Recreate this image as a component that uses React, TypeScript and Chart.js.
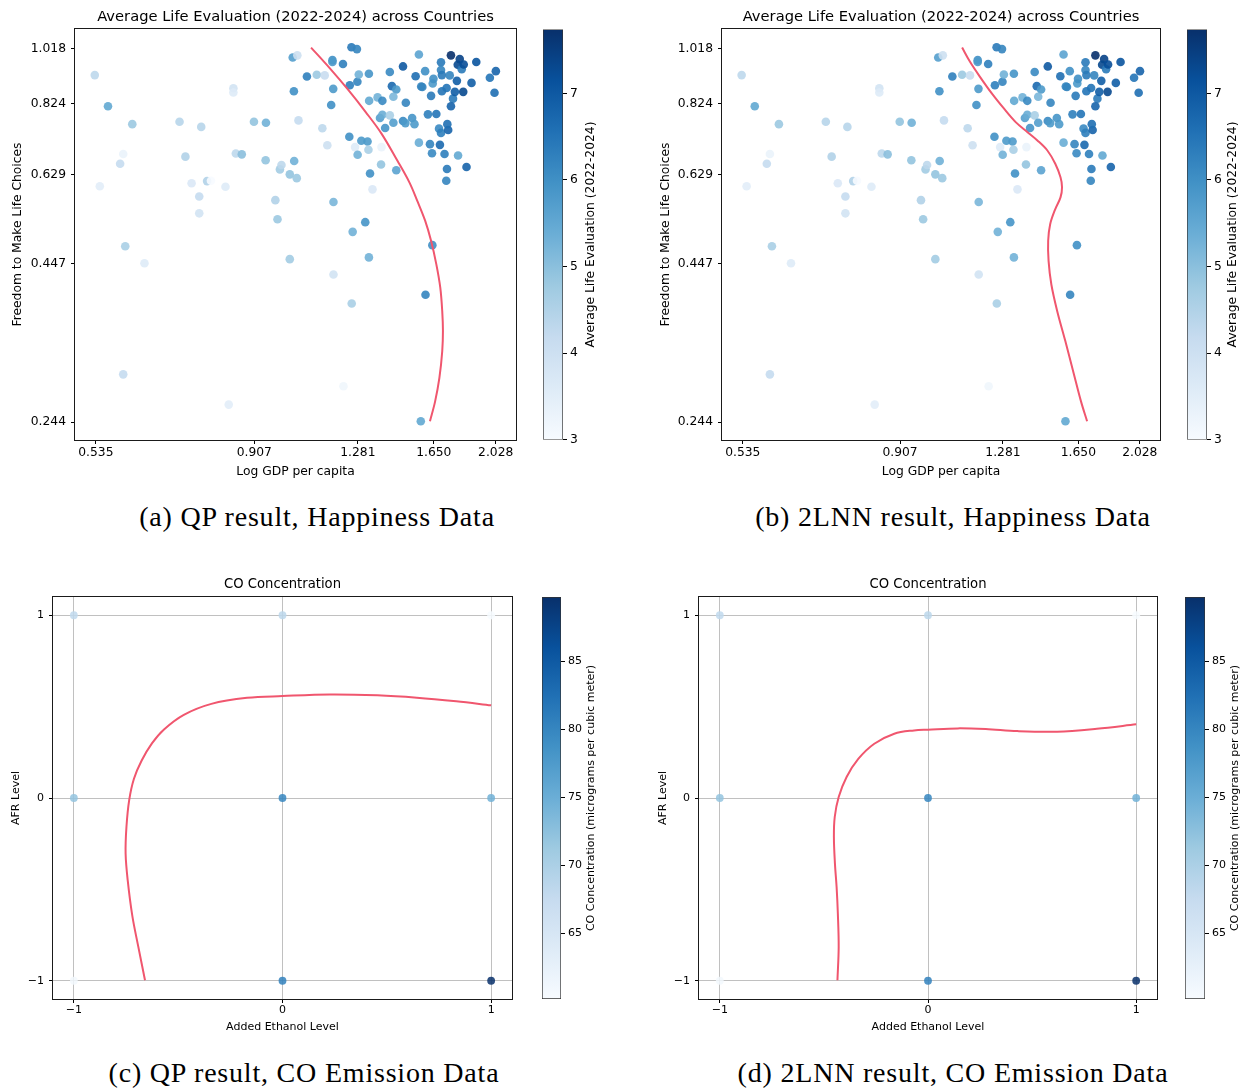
import React, { useEffect, useRef } from 'react';
import { Chart, registerables } from 'chart.js';

Chart.register(...registerables);

const FONT = "'DejaVu Sans', sans-serif";
const RED = '#f0566e';

// ---------------- Happiness data (shared by panels a and b) ----------------
const gdpPerCapita = [
  0.533, 0.557, 0.604, 0.542, 0.580, 0.586, 0.590, 0.629, 0.586, 0.707,
  0.760, 0.721, 0.736, 0.755, 0.755, 0.775, 0.785, 0.824, 0.846, 0.846,
  0.853, 0.870, 0.906, 0.943, 0.833, 0.942, 0.973, 0.980, 0.988, 0.993,
  1.021, 1.036, 1.045, 1.021, 1.031, 1.047, 1.035, 1.051, 1.081, 1.117,
  1.147, 1.138, 1.157, 1.177, 1.177, 1.219, 1.180, 1.172, 1.181, 1.181,
  1.221, 1.245, 1.247, 1.254, 1.277, 1.279, 1.285, 1.329, 1.269, 1.280,
  1.296, 1.323, 1.327, 1.259, 1.313, 1.329, 1.255, 1.334, 1.345, 1.384,
  1.386, 1.330, 1.368, 1.390, 1.379, 1.390, 1.403, 1.425, 1.435, 1.456,
  1.442, 1.425, 1.442, 1.456, 1.489, 1.503, 1.489, 1.501, 1.535, 1.547,
  1.553, 1.570, 1.582, 1.603, 1.588, 1.570, 1.635, 1.618, 1.664, 1.644,
  1.648, 1.629, 1.640, 1.684, 1.679, 1.690, 1.690, 1.690, 1.695, 1.695,
  1.722, 1.731, 1.726, 1.710, 1.724, 1.720, 1.747, 1.740, 1.759, 1.747,
  1.770, 1.782, 1.799, 1.787, 1.811, 1.823, 1.820, 1.789, 1.840, 1.871,
  1.901, 1.989, 2.029, 2.020, 1.642, 1.605, 1.580,
];
const freedomChoices = [
  0.919, 0.816, 0.762, 0.601, 0.655, 0.680, 0.478, 0.448, 0.293, 0.769,
  0.754, 0.673, 0.608, 0.578, 0.542, 0.613, 0.614, 0.600, 0.874, 0.860,
  0.681, 0.679, 0.769, 0.766, 0.261, 0.664, 0.570, 0.530, 0.641, 0.652,
  0.629, 0.662, 0.620, 0.455, 0.983, 0.991, 0.864, 0.773, 0.914, 0.920,
  0.918, 0.750, 0.703, 0.973, 0.966, 0.959, 0.872, 0.820, 0.566, 0.429,
  0.280, 0.726, 0.884, 1.022, 1.015, 0.896, 0.921, 0.924, 0.698, 0.678,
  0.715, 0.713, 0.691, 0.505, 0.524, 0.458, 0.384, 0.631, 0.594, 0.653,
  0.698, 0.833, 0.844, 0.833, 0.780, 0.790, 0.751, 0.930, 0.881, 0.870,
  0.846, 0.788, 0.766, 0.639, 0.950, 0.827, 0.771, 0.765, 0.780, 0.762,
  0.915, 0.994, 0.880, 0.933, 0.878, 0.710, 0.849, 0.791, 0.792, 0.890,
  0.906, 0.706, 0.682, 0.704, 0.749, 0.737, 0.965, 0.937, 0.919, 0.864,
  0.875, 0.745, 0.762, 0.680, 0.642, 0.614, 0.991, 0.918, 0.840, 0.816,
  0.862, 0.899, 0.977, 0.956, 0.940, 0.957, 0.862, 0.676, 0.647, 0.892,
  0.966, 0.910, 0.933, 0.859, 0.480, 0.397, 0.245,
];
const lifeEvaluation = [
  4.3, 5.5, 4.8, 3.5, 4.2, 3.3, 4.6, 3.6, 4.2, 4.4,
  4.4, 4.5, 3.7, 4.2, 3.9, 4.5, 3.0, 3.6, 3.9, 3.6,
  4.3, 5.0, 4.9, 5.3, 3.5, 4.9, 4.5, 4.8, 4.7, 4.3,
  4.9, 5.3, 4.8, 4.7, 5.7, 4.0, 6.0, 4.2, 6.3, 4.8,
  4.1, 4.3, 4.0, 6.0, 5.8, 6.3, 5.8, 6.0, 5.2, 3.9,
  3.2, 6.0, 6.3, 6.4, 6.2, 6.2, 5.3, 5.9, 3.6, 5.3,
  5.8, 5.8, 4.6, 5.3, 5.9, 5.3, 4.6, 6.0, 3.7, 4.9,
  3.3, 5.5, 5.3, 6.1, 5.7, 5.4, 5.9, 6.1, 6.7, 5.8,
  5.2, 4.6, 5.7, 5.6, 7.0, 6.2, 6.1, 5.8, 5.9, 5.8,
  6.6, 5.6, 6.2, 6.0, 6.2, 5.4, 6.4, 6.3, 6.5, 5.8,
  6.0, 6.2, 6.1, 6.7, 6.1, 6.3, 6.4, 6.2, 6.4, 6.5,
  6.5, 6.8, 6.6, 6.3, 6.4, 6.2, 7.74, 6.2, 6.4, 6.8,
  6.9, 6.9, 7.4, 7.3, 6.4, 7.2, 7.3, 5.5, 6.8, 6.9,
  7.1, 6.5, 6.8, 6.6, 6.0, 6.2, 5.5,
];

// QP decision boundary (panel a)
const qpCurveGdp = [1.096, 1.167, 1.239, 1.315, 1.386, 1.461, 1.521, 1.561, 1.603, 1.635, 1.664, 1.686, 1.697, 1.701, 1.697, 1.681, 1.657, 1.629];
const qpCurveFreedom = [1.021, 0.943, 0.870, 0.798, 0.735, 0.663, 0.610, 0.569, 0.527, 0.488, 0.446, 0.408, 0.373, 0.346, 0.320, 0.289, 0.264, 0.245];
// 2LNN decision boundary (panel b)
const nnCurveGdp = [1.117, 1.147, 1.186, 1.234, 1.285, 1.337, 1.391, 1.438, 1.487, 1.527, 1.554, 1.562, 1.554, 1.527, 1.501, 1.491, 1.493, 1.507, 1.537, 1.579, 1.622, 1.665, 1.699];
const nnCurveFreedom = [1.021, 0.967, 0.913, 0.857, 0.809, 0.768, 0.739, 0.716, 0.689, 0.655, 0.622, 0.599, 0.576, 0.551, 0.520, 0.488, 0.452, 0.413, 0.373, 0.333, 0.296, 0.264, 0.245];

const gdpTicks = [0.535, 0.907, 1.281, 1.65, 2.028];
const freedomTicks = [0.244, 0.447, 0.629, 0.824, 1.018];
const lifeEvalTicks = [3, 4, 5, 6, 7];

// ---------------- CO emission data (panels c and d) ----------------
const ethanolLevel = [-1, 0, 1, -1, 0, 1, -1, 0, 1];
const afrLevel = [1, 1, 1, 0, 0, 0, -1, -1, -1];
const coConcentration = [68.0, 68.5, 60.2, 72.0, 80.0, 74.5, 61.0, 80.5, 89.7];

const qpCoEthanol = [-0.659, -0.691, -0.72, -0.742, -0.752, -0.748, -0.735, -0.712, -0.675, -0.625, -0.568, -0.473, -0.341, -0.17, 0.0, 0.227, 0.455, 0.644, 0.833, 1.0];
const qpCoAfr = [-0.997, -0.815, -0.644, -0.45, -0.304, -0.159, -0.013, 0.105, 0.205, 0.3, 0.375, 0.455, 0.515, 0.548, 0.558, 0.567, 0.562, 0.549, 0.529, 0.507];
const nnCoEthanol = [-0.435, -0.429, -0.433, -0.439, -0.447, -0.452, -0.448, -0.429, -0.391, -0.334, -0.258, -0.162, -0.067, 0.0, 0.143, 0.277, 0.429, 0.62, 0.811, 1.0];
const nnCoAfr = [-0.997, -0.815, -0.633, -0.487, -0.359, -0.213, -0.104, 0.005, 0.115, 0.215, 0.297, 0.352, 0.37, 0.374, 0.381, 0.377, 0.366, 0.363, 0.379, 0.403];

const levelTicks = [-1, 0, 1];
const coTicks = [65, 70, 75, 80, 85];

// ---------------- colormap ----------------
const BLUES = ['#f7fbff', '#deebf7', '#c6dbef', '#9ecae1', '#6baed6', '#4292c6', '#2171b5', '#08519c', '#08306b'];
function hexRgb(h: string) {
  return [parseInt(h.slice(1, 3), 16), parseInt(h.slice(3, 5), 16), parseInt(h.slice(5, 7), 16)];
}
function blues(t: number, alpha: number) {
  const tt = Math.min(1, Math.max(0, t));
  const p = tt * 8;
  const i = Math.min(7, Math.floor(p));
  const f = p - i;
  const a = hexRgb(BLUES[i]);
  const b = hexRgb(BLUES[i + 1]);
  const c = a.map((v, k) => Math.round(v + (b[k] - v) * f));
  return `rgba(${c[0]},${c[1]},${c[2]},${alpha})`;
}

const framePlugin = {
  id: 'axesFrame',
  afterDatasetsDraw(chart: any) {
    const { ctx, chartArea: a } = chart;
    ctx.save();
    ctx.strokeStyle = '#1a1a1a';
    ctx.lineWidth = 1;
    ctx.strokeRect(Math.round(a.left) - 0.5, Math.round(a.top) - 0.5, Math.round(a.right - a.left) + 1, Math.round(a.bottom - a.top) + 1);
    ctx.restore();
  },
};

const fmt3 = (v: number) => Number(v).toFixed(3);
const fmtInt = (v: number) => (v < 0 ? '\u2212' + Math.abs(v) : String(v));

function PlotPanel(p: any) {
  const ref = useRef<HTMLCanvasElement>(null);
  useEffect(() => {
    const canvas = ref.current as HTMLCanvasElement;
    const f = p.frame;
    const lhT = p.titleSize * 1.2;
    const titleTop = p.titleY - p.top - lhT / 2;
    const titleBottom = f.top - p.top - titleTop - lhT;
    const lhL = p.labelSize * 1.2;
    const bottomH = p.top + p.height - f.bottom;
    const leftW = f.left - p.left;
    const rightPad = p.left + p.width - f.right;
    const vmin = Math.min(...p.values);
    const vmax = Math.max(...p.values);
    const colors = p.values.map((v: number) => blues((v - vmin) / (vmax - vmin), p.alpha));
    const pts = p.xs.map((x: number, i: number) => ({ x, y: p.ys[i] }));
    const curve = p.curveX.map((x: number, i: number) => ({ x, y: p.curveY[i] }));
    const tickFont = { family: FONT, size: p.tickSize };
    const labelFont = { family: FONT, size: p.labelSize };
    const grid = {
      display: true,
      drawOnChartArea: !!p.grid,
      color: '#b0b0b0',
      lineWidth: 0.8,
      drawTicks: true,
      tickLength: 4,
      tickColor: '#000',
      tickWidth: 1,
    };
    const chart = new Chart(canvas, {
      type: 'scatter',
      data: {
        datasets: [
          {
            type: 'line',
            data: curve,
            borderColor: RED,
            borderWidth: 2,
            pointRadius: 0,
            tension: 0.35,
            fill: false,
            order: 0,
          } as any,
          {
            type: 'scatter',
            data: pts,
            pointBackgroundColor: colors,
            pointBorderColor: 'rgba(0,0,0,0)',
            pointBorderWidth: 0,
            pointRadius: p.radius,
            order: 1,
          } as any,
        ],
      },
      options: {
        animation: false,
        responsive: false,
        events: [],
        layout: { padding: { left: 0, top: 0, right: rightPad, bottom: 0 }, autoPadding: false } as any,
        plugins: {
          legend: { display: false },
          tooltip: { enabled: false },
          title: {
            display: true,
            text: p.title,
            fullSize: false,
            color: '#000',
            font: { family: FONT, size: p.titleSize, weight: 'normal' },
            padding: { top: titleTop, bottom: titleBottom },
          } as any,
        },
        scales: {
          x: {
            type: p.xType,
            position: 'bottom',
            min: p.xMin,
            max: p.xMax,
            afterBuildTicks: (s: any) => {
              s.ticks = p.xTicks.map((v: number) => ({ value: v }));
            },
            afterFit: (s: any) => {
              s.height = bottomH;
            },
            ticks: { callback: (v: any) => p.fmt(v), font: tickFont, color: '#000', padding: 1, maxRotation: 0, autoSkip: false },
            grid,
            border: { display: false },
            title: { display: true, text: p.xLabel, color: '#000', font: labelFont, padding: { top: 0, bottom: p.top + p.height - p.xLabelY - lhL / 2 } },
          } as any,
          y: {
            type: p.yType,
            position: 'left',
            min: p.yMin,
            max: p.yMax,
            afterBuildTicks: (s: any) => {
              s.ticks = p.yTicks.map((v: number) => ({ value: v }));
            },
            afterFit: (s: any) => {
              s.width = leftW;
            },
            ticks: { callback: (v: any) => p.fmt(v), font: tickFont, color: '#000', padding: 5, autoSkip: false },
            grid,
            border: { display: false },
            title: { display: true, text: p.yLabel, color: '#000', font: labelFont, padding: { top: p.yLabelX - p.left - lhL / 2, bottom: 0 } },
          } as any,
        },
      },
      plugins: [framePlugin],
    });
    return () => chart.destroy();
  }, []);
  return (
    <canvas
      ref={ref}
      width={p.width}
      height={p.height}
      style={{ position: 'absolute', left: p.left, top: p.top, width: p.width, height: p.height }}
    />
  );
}

function ColorBar(p: any) {
  const ref = useRef<HTMLCanvasElement>(null);
  const axisW = 62;
  const pad = 10;
  const cw = p.width + axisW;
  const ch = p.height + 2 * pad;
  useEffect(() => {
    const canvas = ref.current as HTMLCanvasElement;
    const vmin = Math.min(...p.values);
    const vmax = Math.max(...p.values);
    const labelPlugin = {
      id: 'cbLabel',
      afterDraw(chart: any) {
        const { ctx, chartArea: a } = chart;
        ctx.save();
        ctx.font = `${p.labelSize}px ${FONT}`;
        ctx.fillStyle = '#000';
        ctx.textAlign = 'center';
        ctx.textBaseline = 'middle';
        ctx.translate(p.labelX - p.left, (a.top + a.bottom) / 2);
        ctx.rotate(-Math.PI / 2);
        ctx.fillText(p.label, 0, 0);
        ctx.restore();
      },
    };
    const chart = new Chart(canvas, {
      type: 'bar',
      data: {
        labels: [''],
        datasets: [
          {
            data: [[vmin, vmax]],
            backgroundColor: (c: any) => {
              const area = c.chart.chartArea;
              if (!area) return BLUES[4];
              const g = c.chart.ctx.createLinearGradient(0, area.bottom, 0, area.top);
              BLUES.forEach((col, i) => g.addColorStop(i / 8, col));
              return g;
            },
            borderColor: '#333',
            borderWidth: 1,
            borderSkipped: false,
            barPercentage: 1,
            categoryPercentage: 1,
          } as any,
        ],
      },
      options: {
        animation: false,
        responsive: false,
        events: [],
        layout: { padding: { left: 0, right: 0, top: pad, bottom: pad }, autoPadding: false } as any,
        plugins: { legend: { display: false }, tooltip: { enabled: false } },
        scales: {
          x: { display: false },
          y: {
            position: 'right',
            min: vmin,
            max: vmax,
            afterBuildTicks: (s: any) => {
              s.ticks = p.ticks.map((v: number) => ({ value: v }));
            },
            afterFit: (s: any) => {
              s.width = axisW;
            },
            ticks: { font: { family: FONT, size: p.tickSize }, color: '#000', padding: 3, callback: (v: any) => String(v) },
            grid: { drawOnChartArea: false, drawTicks: true, tickLength: 4, tickColor: '#000' },
            border: { display: false },
          } as any,
        },
      },
      plugins: [labelPlugin],
    });
    return () => chart.destroy();
  }, []);
  return (
    <canvas
      ref={ref}
      width={cw}
      height={ch}
      style={{ position: 'absolute', left: p.left, top: p.top - pad, width: cw, height: ch }}
    />
  );
}

function Caption({ text, cx, cy }: { text: string; cx: number; cy: number }) {
  return (
    <div
      style={{
        position: 'absolute',
        left: cx - 320,
        width: 640,
        top: cy - 17,
        height: 34,
        lineHeight: '34px',
        textAlign: 'center',
        fontFamily: "'Liberation Serif', 'Times New Roman', serif",
        fontSize: 28,
        letterSpacing: '0.8px',
        color: '#000',
        whiteSpace: 'nowrap',
      }}
    >
      {text}
    </div>
  );
}

const happinessCommon = {
  title: 'Average Life Evaluation (2022-2024) across Countries',
  titleSize: 14.7,
  titleY: 17,
  labelSize: 12.3,
  tickSize: 12.3,
  xLabel: 'Log GDP per capita',
  yLabel: 'Freedom to Make Life Choices',
  xLabelY: 472,
  xType: 'logarithmic',
  yType: 'logarithmic',
  xMin: 0.499,
  xMax: 2.17,
  yMin: 0.228,
  yMax: 1.096,
  xTicks: gdpTicks,
  yTicks: freedomTicks,
  fmt: fmt3,
  xs: gdpPerCapita,
  ys: freedomChoices,
  values: lifeEvaluation,
  radius: 4.3,
  alpha: 0.9,
  grid: false,
  top: 0,
  height: 485,
};

const coCommon = {
  title: 'CO Concentration',
  titleSize: 13.2,
  titleY: 585,
  labelSize: 11,
  tickSize: 11,
  xLabel: 'Added Ethanol Level',
  yLabel: 'AFR Level',
  xLabelY: 1027,
  xType: 'linear',
  yType: 'linear',
  xMin: -1.1,
  xMax: 1.1,
  yMin: -1.1,
  yMax: 1.1,
  xTicks: levelTicks,
  yTicks: levelTicks,
  fmt: fmtInt,
  xs: ethanolLevel,
  ys: afrLevel,
  values: coConcentration,
  radius: 3.9,
  alpha: 0.85,
  grid: true,
  top: 570,
  height: 470,
};

export default function App() {
  return (
    <div style={{ position: 'absolute', left: 0, top: 0, width: 1245, height: 1089, background: '#fff', overflow: 'hidden' }}>
      <PlotPanel {...happinessCommon} left={0} width={530} frame={{ left: 75, top: 29, right: 516, bottom: 440 }} yLabelX={18} curveX={qpCurveGdp} curveY={qpCurveFreedom} />
      <PlotPanel {...happinessCommon} left={620} width={552} frame={{ left: 722, top: 29, right: 1160, bottom: 440 }} yLabelX={665.6} curveX={nnCurveGdp} curveY={nnCurveFreedom} />
      <PlotPanel {...coCommon} left={0} width={525} frame={{ left: 53, top: 597, right: 512, bottom: 999 }} yLabelX={16} curveX={qpCoEthanol} curveY={qpCoAfr} />
      <PlotPanel {...coCommon} left={620} width={550} frame={{ left: 699, top: 597, right: 1157, bottom: 999 }} yLabelX={663.6} curveX={nnCoEthanol} curveY={nnCoAfr} />

      <ColorBar left={543} top={29} width={20} height={411} values={lifeEvaluation} ticks={lifeEvalTicks} label="Average Life Evaluation (2022-2024)" labelX={591} labelSize={12.3} tickSize={12.3} />
      <ColorBar left={1187} top={29} width={20} height={411} values={lifeEvaluation} ticks={lifeEvalTicks} label="Average Life Evaluation (2022-2024)" labelX={1233} labelSize={12.3} tickSize={12.3} />
      <ColorBar left={542} top={597} width={19} height={402} values={coConcentration} ticks={coTicks} label="CO Concentration (micrograms per cubic meter)" labelX={591} labelSize={11} tickSize={11} />
      <ColorBar left={1185} top={597} width={20} height={402} values={coConcentration} ticks={coTicks} label="CO Concentration (micrograms per cubic meter)" labelX={1235} labelSize={11} tickSize={11} />

      <Caption text="(a) QP result, Happiness Data" cx={317} cy={517} />
      <Caption text="(b) 2LNN result, Happiness Data" cx={953} cy={517} />
      <Caption text="(c) QP result, CO Emission Data" cx={304} cy={1073} />
      <Caption text="(d) 2LNN result, CO Emission Data" cx={953} cy={1073} />
    </div>
  );
}
